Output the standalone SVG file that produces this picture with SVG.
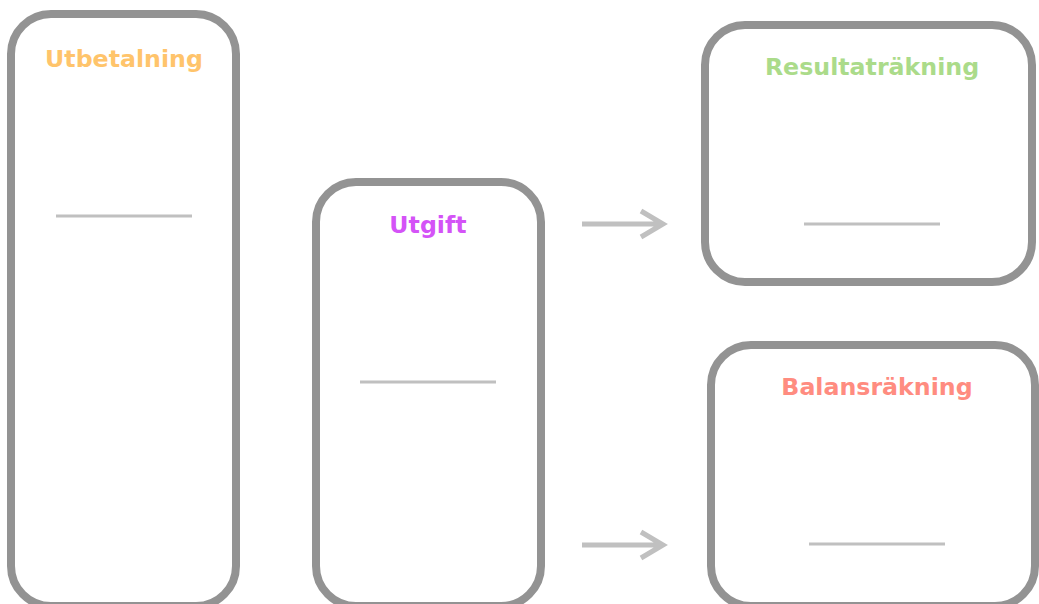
<svg xmlns="http://www.w3.org/2000/svg" width="1039" height="604" viewBox="0 0 1039 604">
<style>
.box{fill:#fff;stroke:#939393;stroke-width:8}
.sep{stroke:#c0c0c0;stroke-width:3}
.t{font-family:"DejaVu Sans",Verdana,sans-serif;font-weight:bold;font-size:23.7px;text-anchor:middle}
.conn{stroke:#c0c0c0;stroke-width:5;fill:none}
</style>
<rect width="1039" height="604" fill="#fff"/>
<g id="utbetalning">
<rect class="box" x="11" y="14" width="225" height="592" rx="40"/>
<text class="t" x="124" y="66.5" fill="#ffc46b">Utbetalning</text>
<line class="sep" x1="56" y1="216" x2="192" y2="216"/>
</g>
<g id="utgift">
<rect class="box" x="316" y="182" width="225" height="424" rx="40"/>
<text class="t" x="428" y="233" fill="#d453f7">Utgift</text>
<line class="sep" x1="360" y1="382" x2="496" y2="382"/>
</g>
<g id="resultatrakning">
<rect class="box" x="705" y="25" width="327" height="257" rx="40"/>
<text class="t" x="872" y="75" fill="#abdb8a">Resultaträkning</text>
<line class="sep" x1="804" y1="224" x2="940" y2="224"/>
</g>
<g id="balansrakning">
<rect class="box" x="711" y="345" width="324" height="261" rx="40"/>
<text class="t" x="877" y="395" fill="#ff8c80">Balansräkning</text>
<line class="sep" x1="809" y1="544" x2="945" y2="544"/>
</g>
<g id="connectors">
<path class="conn" d="M582 224 H663 M641 211 L663 224 L641 237"/>
<path class="conn" d="M582 545 H663 M641 532 L663 545 L641 558"/>
</g>
</svg>
